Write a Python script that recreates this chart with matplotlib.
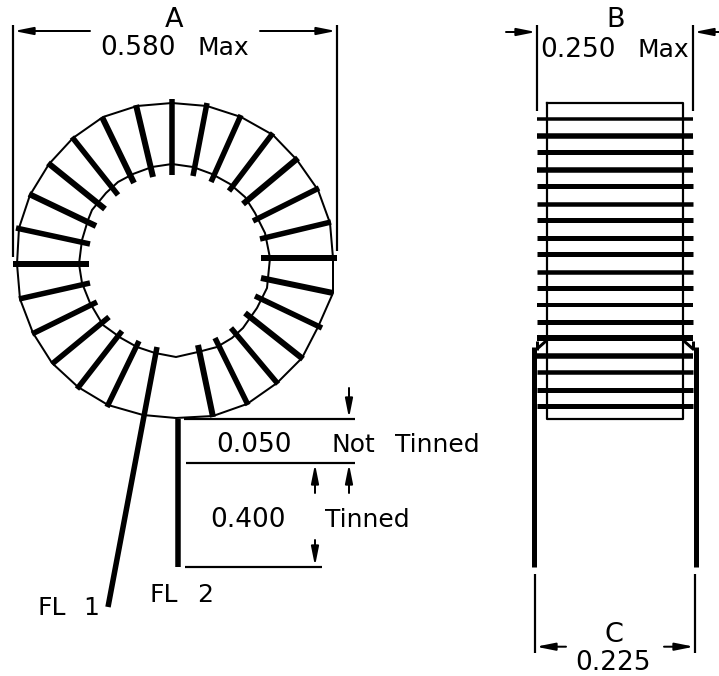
import matplotlib
matplotlib.use("Agg")
import matplotlib.pyplot as plt

WIDTH, HEIGHT = 719, 676
FONT = "DejaVu Sans"

# toroid outline in pixels
outer_ring = [
    (172, 103), (207, 106), (241, 117), (273, 135), (297, 160), (318, 190), (330, 223),
    (333, 258), (333, 293), (318, 327), (302, 358), (277, 383), (247, 404), (213, 416),
    (176, 418), (143, 415), (108, 405), (78, 387), (52, 363), (33, 333), (20, 299),
    (17, 264), (19, 228), (30, 195), (49, 164), (73, 138), (103, 117), (137, 106),
]
inner_ring = [
    (172, 164), (193, 167), (212, 174), (230, 184), (245, 197), (255, 213), (265, 233),
    (270, 258), (267, 288), (257, 308), (243, 328), (232, 338), (217, 347), (198, 352),
    (176, 357), (155, 353), (137, 347), (121, 338), (103, 325), (90, 303), (82, 283),
    (79, 264), (82, 240), (88, 220), (92, 210), (106, 193), (118, 182), (133, 174),
    (152, 167),
]

# x0, y0, x1, y1, line width in px
front_windings = [
    (172, 99, 172, 175, 5.5), (207, 103, 193, 176, 5.5), (241, 115, 211, 182, 5.5),
    (273, 133, 229, 191, 5.5), (298, 158, 243, 204, 6), (319, 188, 253, 221, 5.5),
    (331, 222, 260, 239, 5.5), (337, 258, 261, 258, 6), (333, 293, 261, 278, 6),
    (322, 328, 255, 296, 5.5), (303, 359, 245, 313, 6), (278, 384, 231, 328, 5.5),
    (248, 405, 215, 338, 5.5), (213, 417, 198, 345, 6), (139, 341, 107, 407, 5.5),
    (122, 331, 77, 389, 5.5), (109, 317, 52, 364, 5.5), (97, 302, 32, 334, 5.5),
    (90, 283, 19, 299, 5.5), (89, 264, 13, 264, 6), (90, 244, 16, 228, 5.5),
    (96, 226, 29, 194, 6), (105, 209, 48, 163, 6), (118, 195, 72, 137, 5.5),
    (134, 183, 102, 117, 6), (153, 177, 136, 105, 6),
]
lead_wires = [(157, 347, 108, 607, 5.5), (178, 419, 178, 567, 5.5)]

# side view
core_rect = [(547, 103), (683, 103), (683, 418.5), (547, 418.5), (547, 103)]
side_winding_y = [118.7, 135.7, 151.7, 169.7, 185.7, 203.7, 219.7, 237.7, 253.7, 271.7, 287.7,
                  305, 321.7, 337.7, 355.7, 371.7, 389.7, 405.7]
side_winding_w = [3.5, 5.5, 5, 5.5, 5, 4.5, 5, 5, 5, 4.5, 5, 4, 5, 6, 5.5, 4.5, 5, 5]
side_leads = [(533.5, 347, 533.5, 567, 5), (696, 347, 696, 567, 5),
              (546, 341, 537, 349, 3), (684, 341, 693, 349, 3),
              (537, 341, 537, 350, 3), (693, 341, 693, 350, 3)]

# dimension lines
thin_lines = [
    (12.7, 25, 12.7, 257), (337, 25, 337, 251),
    (537, 25, 537, 111), (692.7, 25, 692.7, 111),
    (534.7, 574, 534.7, 653), (695, 574, 695, 653),
    (184, 419, 355, 419), (186, 462.7, 355, 462.7), (185, 566.7, 322, 566.7),
]
# tail x, tail y, tip x, tip y
dim_arrows = [
    (90, 31, 14, 31), (260, 31, 336, 31),
    (506, 32, 536, 32), (719, 32, 694, 32),
    (566, 646.7, 536, 646.7), (664, 646.7, 694, 646.7),
    (349, 388, 349, 418), (349, 493, 349, 464),
    (315, 493, 315, 464), (315, 540, 315, 566),
]

# text, left x, baseline y, size in pt
labels = [
    ("A", 165, 27, 19.5), ("0.580", 100, 55, 19), ("Max", 197, 55, 18),
    ("B", 606, 27, 19.5), ("0.250", 540, 57, 19), ("Max", 637, 57, 18),
    ("0.050", 216, 452, 19), ("Not", 331, 452, 18), ("Tinned", 395, 452, 18),
    ("0.400", 210, 527, 19), ("Tinned", 325, 527, 18),
    ("FL", 37, 615, 18), ("1", 83, 615, 18), ("FL", 150, 602, 18), ("2", 197, 602, 18),
    ("C", 605, 642, 19.5), ("0.225", 575, 670, 19),
]

fig = plt.figure(figsize=(WIDTH / 100, HEIGHT / 100), dpi=100)
ax = fig.add_axes([0, 0, 1, 1])
ax.set_xlim(0, WIDTH)
ax.set_ylim(HEIGHT, 0)
ax.axis("off")


def px(width):
    return width * 72 / 100


def draw_segment(x0, y0, x1, y1, width):
    ax.plot([x0, x1], [y0, y1], color="black", lw=px(width), solid_capstyle="butt")


for ring in (outer_ring, inner_ring):
    xs = [p[0] for p in ring] + [ring[0][0]]
    ys = [p[1] for p in ring] + [ring[0][1]]
    ax.plot(xs, ys, color="black", lw=px(2), solid_joinstyle="miter")

for seg in front_windings + lead_wires + side_leads:
    draw_segment(*seg)

ax.plot([p[0] for p in core_rect], [p[1] for p in core_rect], color="black", lw=px(2.2))
for y, w in zip(side_winding_y, side_winding_w):
    draw_segment(537, y, 693, y, w)

for x0, y0, x1, y1 in thin_lines:
    draw_segment(x0, y0, x1, y1, 2.2)

for x0, y0, x1, y1 in dim_arrows:
    ax.annotate(
        "",
        xy=(x1, y1),
        xytext=(x0, y0),
        arrowprops=dict(arrowstyle="-|>,head_length=0.7,head_width=0.14", color="black",
                        lw=px(2), shrinkA=0, shrinkB=0, mutation_scale=16),
    )

for text, x, y, size in labels:
    ax.text(x, y, text, fontsize=size, family=FONT, ha="left", va="baseline", color="black")

fig.savefig("out.png", dpi=100)
